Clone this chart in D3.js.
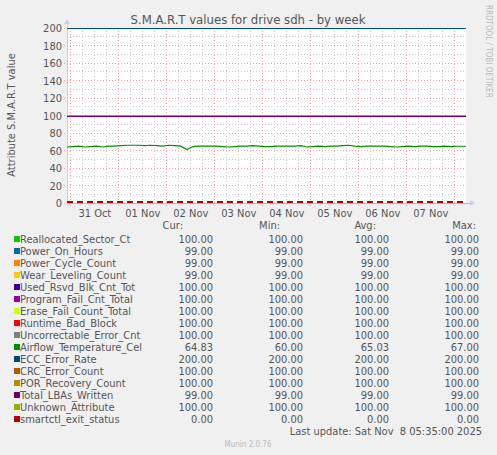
<!DOCTYPE html>
<html><head><meta charset="utf-8">
<script src="https://cdn.jsdelivr.net/npm/d3@7"></script>
<style>body{margin:0;background:#f0f0f0}svg{display:block}text{font-family:"DejaVu Sans Condensed","DejaVu Sans",sans-serif;fill:#555}line{shape-rendering:crispEdges}</style>
</head><body><svg id="c" width="497" height="455"></svg>
<script>
var names = ['Reallocated_Sector_Ct','Power_On_Hours','Power_Cycle_Count','Wear_Leveling_Count','Used_Rsvd_Blk_Cnt_Tot','Program_Fail_Cnt_Total','Erase_Fail_Count_Total','Runtime_Bad_Block','Uncorrectable_Error_Cnt','Airflow_Temperature_Cel','ECC_Error_Rate','CRC_Error_Count','POR_Recovery_Count','Total_LBAs_Written','Unknown_Attribute','smartctl_exit_status'];
var colors = ['#00cc00','#0066b3','#ff8000','#ffcc00','#330099','#990099','#ccff00','#ff0000','#808080','#008f00','#00487d','#b35a00','#b38f00','#6b006b','#8fb300','#b30000'];
var cur = ['100.00','99.00','99.00','99.00','100.00','100.00','100.00','100.00','100.00','64.83','200.00','100.00','100.00','99.00','100.00','0.00'];
var min = ['100.00','99.00','99.00','99.00','100.00','100.00','100.00','100.00','100.00','60.00','200.00','100.00','100.00','99.00','100.00','0.00'];
var avg = ['100.00','99.00','99.00','99.00','100.00','100.00','100.00','100.00','100.00','65.03','200.00','100.00','100.00','99.00','100.00','0.00'];
var max = ['100.00','99.00','99.00','99.00','100.00','100.00','100.00','100.00','100.00','67.00','200.00','100.00','100.00','99.00','100.00','0.00'];
var constVals = [100,99,99,99,100,100,100,100,100,null,200,100,100,99,100,0];
// temperature every 3 hours from Oct 30 22:00
var temp = [64,64.5,65,64,64.5,65,64,65,65,65.5,66,66,66,65.5,66,65.5,65,66,65.5,65,61,64.5,65,65,65,65,64.5,64,64.5,65,65,65.5,65,64.5,64.5,65,65,65,65,65.5,64,64.5,65,64.5,65,65,65.5,66,65,64.5,65,65,65,65,64.5,64,64.5,65,64.5,65,65,64.5,64.5,65,64.5,64.83,64.83];
var yTicks = [0,20,40,60,80,100,120,140,160,180,200];
var dayLabels = ['31 Oct','01 Nov','02 Nov','03 Nov','04 Nov','05 Nov','06 Nov','07 Nov'];

var svg = d3.select('#c');
var t0 = new Date(2025,9,30,22,5), t1 = new Date(2025,10,8,5,35);
var x = d3.scaleTime().domain([t0,t1]).range([67,466]);
var y = d3.scaleLinear().domain([0,200]).range([203,28]);

svg.append('rect').attr('x',67).attr('y',28).attr('width',399).attr('height',175).attr('fill','#fff');

// minor grid
d3.range(10,200,20).forEach(function(v){
  svg.append('line').attr('x1',67).attr('x2',466).attr('y1',y(v)).attr('y2',y(v)).attr('stroke','#ccc').attr('stroke-dasharray','1,2');
});
d3.timeHour.every(6).range(t0,t1).forEach(function(d){
  if (d.getHours()===0) return;
  svg.append('line').attr('x1',x(d)).attr('x2',x(d)).attr('y1',28).attr('y2',203).attr('stroke','#ccc').attr('stroke-dasharray','1,2');
});
// major grid
yTicks.forEach(function(v){
  svg.append('line').attr('x1',64).attr('x2',466).attr('y1',y(v)).attr('y2',y(v)).attr('stroke','#f4a0a0').attr('stroke-dasharray','1,2');
  svg.append('text').attr('x',62).attr('y',y(v)+4).attr('text-anchor','end').attr('font-size',11).text(v);
});
var days = d3.timeDay.range(new Date(2025,9,31),t1);
days.forEach(function(d){
  svg.append('line').attr('x1',x(d)).attr('x2',x(d)).attr('y1',28).attr('y2',206).attr('stroke','#f4a0a0').attr('stroke-dasharray','1,2');
});
dayLabels.forEach(function(l,i){
  svg.append('text').attr('x',x(d3.timeHour.offset(days[i],12))).attr('y',217).attr('text-anchor','middle').attr('font-size',11).text(l);
});

// axes
svg.append('line').attr('x1',67).attr('x2',470).attr('y1',203).attr('y2',203).attr('stroke','#ddaaaa');
svg.append('line').attr('x1',67).attr('x2',67).attr('y1',24).attr('y2',206).attr('stroke','#ccccee');
svg.append('path').attr('d','M470,200 L475,203 L470,206 Z').attr('fill','#ccccee');
svg.append('path').attr('d','M64,24 L67,19 L70,24 Z').attr('fill','#ccccee');

// series
var line = d3.line().x(function(d){return x(d[0]);}).y(function(d){return y(d[1]);});
constVals.forEach(function(v,i){
  if (v===null) {
    var pts = temp.map(function(t,j){return [d3.timeHour.offset(new Date(2025,9,30,22),3*j),t];});
    pts[0][0]=t0; pts[pts.length-1][0]=t1;
    svg.append('path').attr('d',line(pts)).attr('fill','none').attr('stroke',colors[i]).attr('stroke-width',1.2);
    return;
  }
  var p = svg.append('path').attr('d',line([[t0,v],[t1,v]])).attr('fill','none').attr('stroke',colors[i]).attr('stroke-width',1).attr('shape-rendering','crispEdges');
  if (i===15) p.attr('stroke-width',2).attr('stroke-dasharray','6,4').attr('d',line([[t0,v+0.6],[t1,v+0.6]]));
});

svg.append('text').attr('x',248).attr('y',24).attr('text-anchor','middle').attr('font-size',13).text('S.M.A.R.T values for drive sdh - by week');
svg.append('text').attr('transform','translate(15,115) rotate(-90)').attr('text-anchor','middle').attr('font-size',11).text('Attribute S.M.A.R.T value');
svg.append('text').attr('transform','translate(486,5) rotate(90)').attr('font-size',8).style('fill','#bbb').text('RRDTOOL / TOBI OETIKER');

// legend
[['Cur:',183],['Min:',280],['Avg:',376],['Max:',476]].forEach(function(h){
  svg.append('text').attr('x',h[1]).attr('y',229).attr('text-anchor','end').attr('font-size',11).text(h[0]);
});
names.forEach(function(n,i){
  var yy = 243 + 12*i;
  svg.append('rect').attr('x',14).attr('y',yy-7).attr('width',6).attr('height',6).attr('fill',colors[i]);
  svg.append('text').attr('x',20).attr('y',yy).attr('font-size',11).text(n);
  [[cur,213],[min,303],[avg,389],[max,479]].forEach(function(c){
    svg.append('text').attr('x',c[1]).attr('y',yy).attr('text-anchor','end').attr('font-size',11).text(c[0][i]);
  });
});
svg.append('text').attr('x',482).attr('y',435).attr('text-anchor','end').attr('font-size',11).text('Last update: Sat Nov  8 05:35:00 2025').attr('xml:space','preserve');
svg.append('text').attr('x',248).attr('y',447).attr('text-anchor','middle').attr('font-size',8).style('fill','#bbb').text('Munin 2.0.76');
</script></body></html>
